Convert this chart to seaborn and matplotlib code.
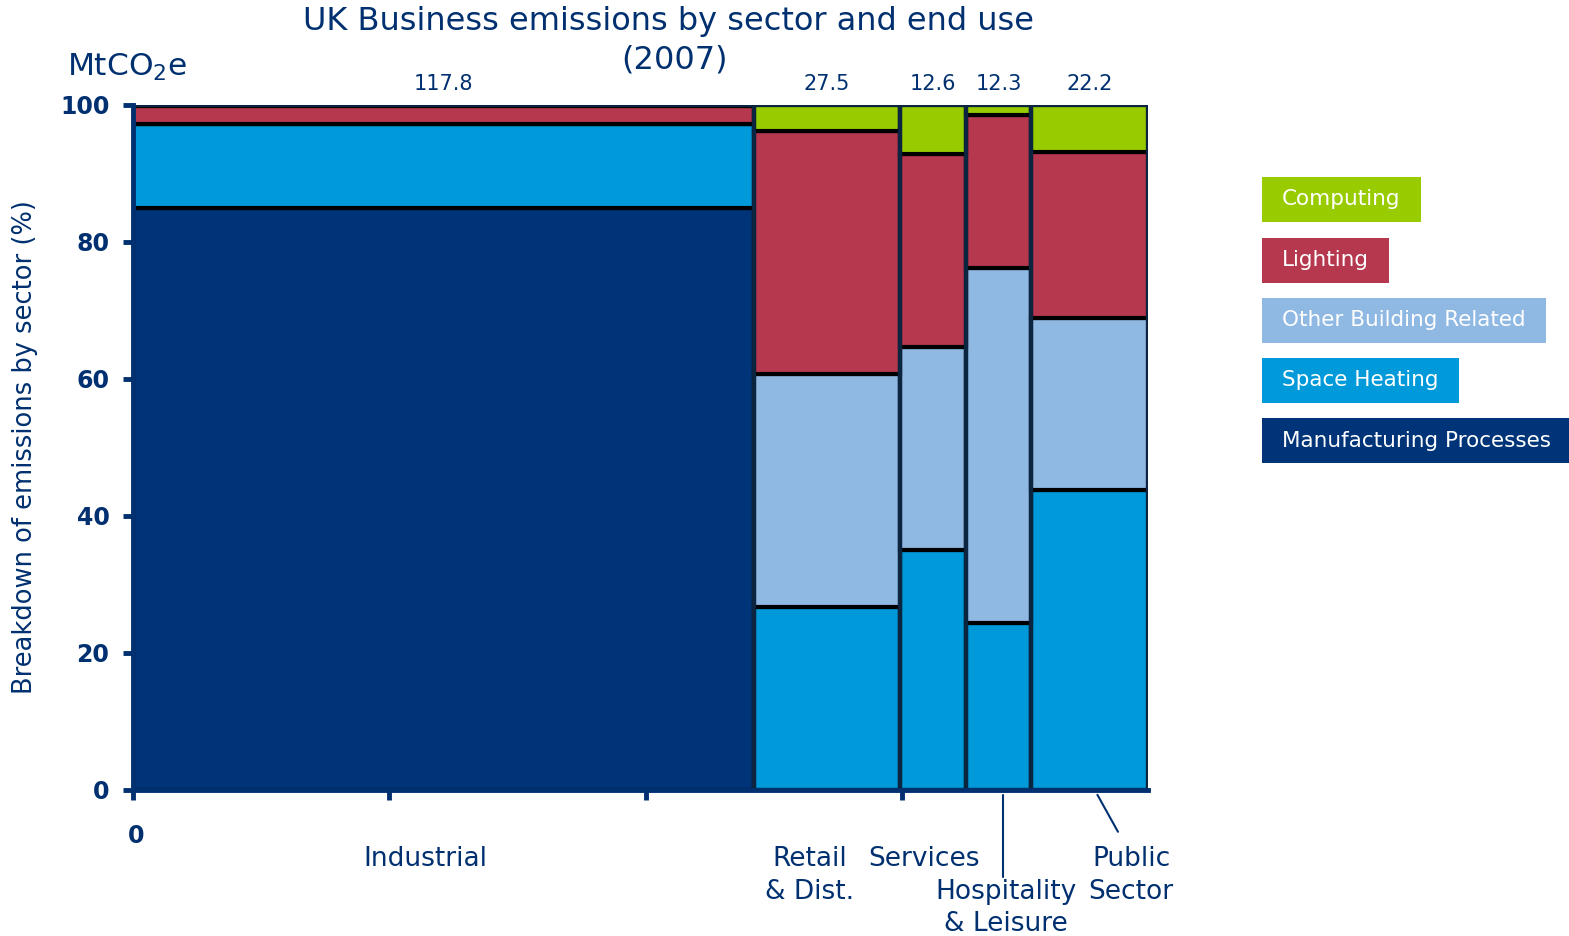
import numpy as np
import matplotlib
matplotlib.use('Agg')
import matplotlib.pyplot as plt
import matplotlib.transforms as mtransforms
from matplotlib.patches import Rectangle
import seaborn as sns

sectors = ['Industrial', 'Retail\n& Dist.', 'Services', 'Hospitality\n& Leisure', 'Public\nSector']
totals = [117.8, 27.5, 12.6, 12.3, 22.2]

end_uses = ['Manufacturing Processes', 'Space Heating', 'Other Building Related', 'Lighting', 'Computing']
manufacturing = [85.0, 0, 0, 0, 0]
space_heating = [12.2, 26.7, 35.0, 24.4, 43.8]
other_building = [0, 34.0, 29.7, 51.8, 25.1]
lighting = [2.6, 35.5, 28.1, 22.3, 24.2]
computing = [0.2, 3.8, 7.2, 1.5, 6.9]

navy = '#00306F'
colors = ['#003478', '#009ADA', '#8FB8E3', '#B5384E', '#99CC00']

sns.set_style('white')
plt.rcParams['font.family'] = ['DejaVu Sans']

fig = plt.figure(figsize=(15.69, 9.36), dpi=100)
ax = fig.add_axes([0.0848, 0.156, 0.6469, 0.732])

totals_arr = np.array(totals)
lefts = np.concatenate([[0], np.cumsum(totals_arr)[:-1]])
centers = lefts + totals_arr / 2
grand = totals_arr.sum()

bottom = np.zeros(len(sectors))
for name, vals, col in zip(end_uses, [manufacturing, space_heating, other_building, lighting, computing], colors):
    vals = np.array(vals, dtype=float)
    ax.bar(lefts, vals, width=totals_arr, bottom=bottom, align='edge',
           color=col, edgecolor='black', linewidth=3, label=name)
    bottom += vals

# column outlines
ax.bar(lefts, [100] * len(sectors), width=totals_arr, align='edge',
       fill=False, edgecolor='#0b2540', linewidth=3)

ax.set_xlim(0, grand)
ax.set_ylim(0, 100)
sns.despine(ax=ax, top=True, right=True)
for s in ['left', 'bottom']:
    ax.spines[s].set_color(navy)
    ax.spines[s].set_linewidth(3.5)
    ax.spines[s].set_zorder(5)

ax.set_yticks([0, 20, 40, 60, 80, 100])
ax.set_yticklabels(['0', '20', '40', '60', '80', '100'], fontsize=17, fontweight='bold', color=navy)
ax.tick_params(axis='y', length=7, width=3.5, color=navy, pad=10, left=True)
step = grand / 3.96
ax.set_xticks([0, step, 2 * step, 3 * step])
ax.set_xticklabels([])
ax.tick_params(axis='x', length=7, width=3.5, color=navy, bottom=True)

ax.set_ylabel('Breakdown of emissions by sector (%)', fontsize=18.5, color=navy, labelpad=16)

trans = mtransforms.blended_transform_factory(ax.transData, ax.transAxes)
ax.text(0.6, -0.067, '0', transform=trans, ha='center', va='center',
        fontsize=17, fontweight='bold', color=navy)

# sector totals above the columns
for c, t in zip(centers, totals):
    ax.text(c, 1.031, f'{t}', transform=trans, ha='center', va='center', fontsize=15, color=navy)

# sector names below
offsets = [-3.5, -3.3, -1.6, 1.4, 7.9]
tops = [-0.082, -0.082, -0.082, -0.130, -0.082]
for c, off, top, name in zip(centers, offsets, tops, sectors):
    ax.text(c + off, top, name, transform=trans, ha='center', va='top',
            fontsize=19, color=navy, linespacing=1.32)

# leader lines
ax.plot([centers[3] + 0.9, centers[3] + 0.9], [-0.007, -0.127], transform=trans,
        color=navy, lw=1.5, clip_on=False)
ax.plot([centers[4] + 1.5, centers[4] + 5.4], [-0.007, -0.061], transform=trans,
        color=navy, lw=1.5, clip_on=False)

fig.text(0.426, 0.977, 'UK Business emissions by sector and end use', ha='center', va='center',
         fontsize=23, color=navy)
fig.text(0.43, 0.936, '(2007)', ha='center', va='center', fontsize=23, color=navy)
fig.text(0.043, 0.928, 'MtCO$_2$e', ha='left', va='center', fontsize=22.5, color=navy)

# legend boxes
leg_y = [0.787, 0.722, 0.658, 0.594, 0.529]
fig.canvas.draw()
renderer = fig.canvas.get_renderer()
W, H = fig.bbox.width, fig.bbox.height
for name, col, y in zip(end_uses[::-1], colors[::-1], leg_y):
    t = fig.text(1282 / W, y, name, ha='left', va='center', fontsize=15.5, color='white', zorder=3)
    bb = t.get_window_extent(renderer)
    x0 = 1262
    x1 = bb.x1 + 20
    h = 45
    yc = y * H
    fig.patches.append(Rectangle((x0 / W, (yc - h / 2) / H), (x1 - x0) / W, h / H,
                                 transform=fig.transFigure, facecolor=col, edgecolor='none', zorder=2))

fig.savefig('out.png', dpi=100)
